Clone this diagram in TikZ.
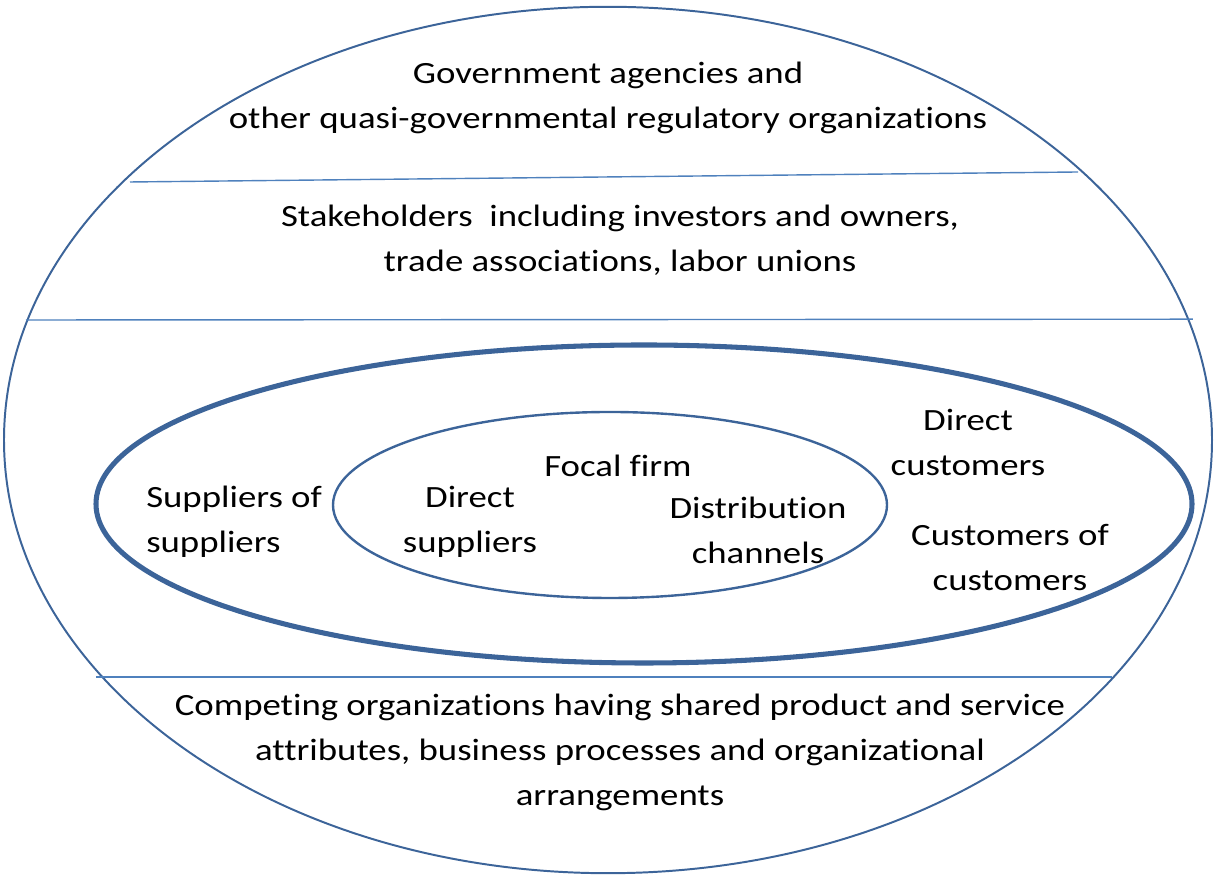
\documentclass[tikz,border=0pt]{standalone}
\usepackage{fontspec}
\setmainfont{Carlito}
\newfontfamily\widefont[FakeStretch=1.19, Ligatures=NoCommon]{Carlito}
\usepackage{tikz}
\usetikzlibrary{positioning}

\definecolor{ringblue}{RGB}{60,100,153}
\definecolor{lineblue}{RGB}{79,129,189}

\tikzset{
  ring/.style={draw=ringblue, line width=1.4pt},
  band/.style={draw=lineblue, line width=1pt},
  label/.style={align=center, font=\widefont\fontsize{22}{32}\selectfont, inner sep=0pt}
}

\begin{document}
\begin{tikzpicture}
      \path[use as bounding box] (0, 0) rectangle (30.4, 21.95);

      % rings
      \draw[ring] (15.2, 10.95) ellipse [x radius=15.1cm, y radius=10.83cm];
      \draw[ring, line width=3.6pt] (16.1, 9.35) ellipse [x radius=13.7cm, y radius=3.975cm];
      \draw[ring, line width=1.7pt] (15.25, 9.325) ellipse [x radius=6.925cm, y radius=2.325cm];

      % bands
      \coordinate (b1l) at (3.25, 17.4);
      \coordinate (b1r) at (26.95, 17.65);
      \coordinate (b2l) at (0.65, 13.95);
      \coordinate (b2r) at (29.82, 13.97);
      \coordinate (b3l) at (2.4, 5.02);
      \coordinate (b3r) at (27.8, 5.02);
      \draw[band] (b1l) -- (b1r);
      \draw[band] (b2l) -- (b2r);
      \draw[band] (b3l) -- (b3r);

      \node[label] (gov) at (15.2, 19.5) {Government agencies and\\other quasi-governmental regulatory organizations};
      \node[label] (stake) at (15.5, 15.95) {Stakeholders~ including investors and owners,\\trade associations, labor unions};
      \node[label, align=left, anchor=west] (supsup) at (3.65, 8.9) {Suppliers of\\suppliers};
      \node[label] (dirsup) at (11.75, 8.9) {Direct\\suppliers};
      \node[label] (focal) at (15.45, 10.3) {Focal firm};
      \node[label] (distr) at (18.95, 8.7) {Distribution\\channels};
      \node[label] (dircust) at (24.2, 10.9) {Direct\\customers};
      \node[label] (custcust) at (25.25, 8.0) {Customers of\\customers};
      \node[label] (compete) at (15.5, 3.15) {Competing organizations having shared product and service\\attributes, business processes and organizational\\arrangements};
\end{tikzpicture}
\end{document}
